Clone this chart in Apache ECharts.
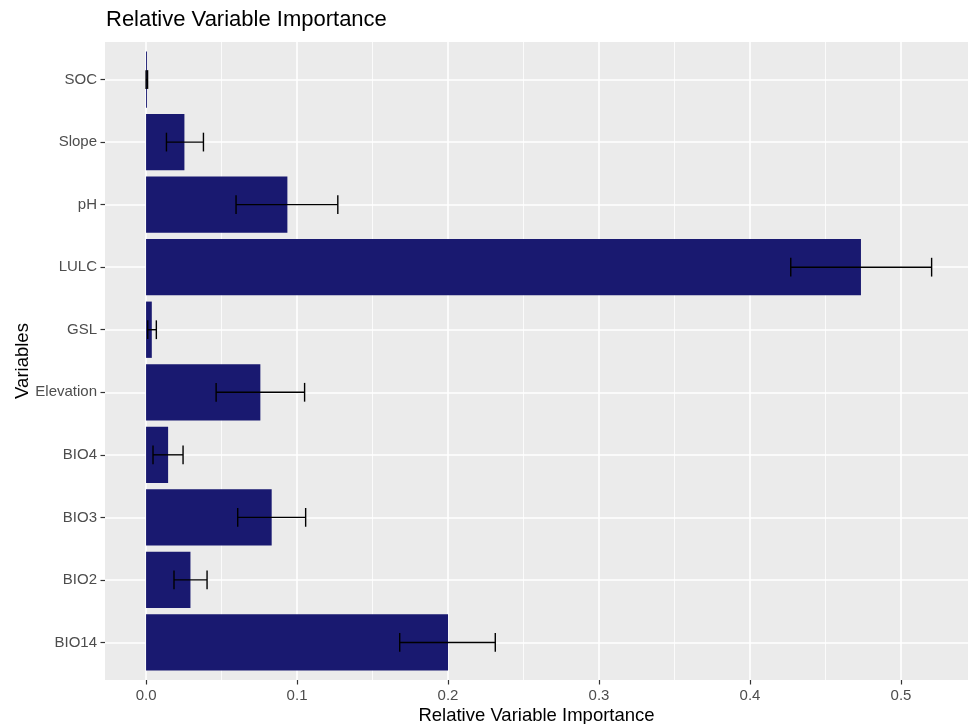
<!DOCTYPE html>
<html>
<head>
<meta charset="utf-8">
<script src="https://cdn.jsdelivr.net/npm/echarts@6/dist/echarts.min.js"></script>
<style>
  html, body { margin: 0; padding: 0; background: #ffffff; }
  #chart { width: 971px; height: 724px; }
</style>
</head>
<body>
<div id="chart"></div>
<script>
// Variables, listed bottom to top
const categories = ['BIO14', 'BIO2', 'BIO3', 'BIO4', 'Elevation', 'GSL', 'LULC', 'pH', 'Slope', 'SOC'];
// Mean relative importance per variable
const importance = [0.200, 0.0294, 0.0832, 0.0146, 0.0757, 0.0038, 0.4735, 0.0936, 0.0254, 0.0006];
// Error bar limits
const lowerBound = [0.168, 0.0185, 0.0607, 0.0046, 0.0464, 0.0011, 0.427, 0.0596, 0.0135, 0.0000];
const upperBound = [0.2313, 0.0404, 0.1057, 0.0245, 0.1050, 0.0068, 0.5203, 0.127, 0.0380, 0.0010];
// Axis breaks
const xMajorTicks = [0, 0.1, 0.2, 0.3, 0.4, 0.5];
const xMinorTicks = [0.05, 0.15, 0.25, 0.35, 0.45];
const xTickLabels = ['0.0', '0.1', '0.2', '0.3', '0.4', '0.5'];

const FONT = 'Liberation Sans, Arial, sans-serif';
const BAR_COLOR = '#191970';
const X_MIN = -0.0272;
const X_MAX = 0.5444;

const yPositions = categories.map((_, i) => i + 1);
const barData = importance.map((v, i) => [v, yPositions[i]]);
const errData = lowerBound.map((lo, i) => [lo, upperBound[i], yPositions[i]]);

const chart = echarts.init(document.getElementById('chart'), null, { renderer: 'canvas' });

chart.setOption({
  backgroundColor: '#ffffff',
  animation: false,
  title: {
    text: 'Relative Variable Importance',
    left: 106,
    top: 9,
    padding: 0,
    textStyle: { fontFamily: FONT, fontSize: 22, fontWeight: 'normal', color: '#000000' }
  },
  // y-axis title, rotated and centred on the panel height
  graphic: [
    {
      type: 'text',
      x: 23,
      y: 361,
      rotation: Math.PI / 2,
      style: {
        text: 'Variables',
        fontFamily: FONT,
        fontSize: 18.5,
        fill: '#000000',
        align: 'center',
        verticalAlign: 'middle'
      }
    }
  ],
  grid: {
    left: 105, right: 3, top: 42, bottom: 44,
    outerBoundsMode: 'none',
    containLabel: false,
    show: true, backgroundColor: '#EBEBEB', borderWidth: 0
  },
  xAxis: [
    {
      type: 'value',
      min: X_MIN,
      max: X_MAX,
      name: 'Relative Variable Importance',
      nameLocation: 'middle',
      nameGap: 26,
      nameMoveOverlap: false,
      nameTextStyle: { fontFamily: FONT, fontSize: 18.5, color: '#000000', verticalAlign: 'top' },
      axisLine: { show: false, onZero: false },
      axisTick: { show: true, length: 4.5, customValues: xMajorTicks, lineStyle: { color: '#333333', width: 1.2 } },
      axisLabel: {
        customValues: xMajorTicks,
        formatter: (v) => xTickLabels[xMajorTicks.findIndex(t => Math.abs(t - v) < 1e-9)],
        fontFamily: FONT, fontSize: 15, color: '#4D4D4D', margin: 8
      },
      splitLine: { show: true, lineStyle: { color: '#ffffff', width: 1.6 } }
    },
    {
      type: 'value',
      position: 'top',
      min: X_MIN,
      max: X_MAX,
      axisLine: { show: false, onZero: false },
      axisTick: { show: false, customValues: xMinorTicks },
      axisLabel: { show: false, customValues: xMinorTicks },
      splitLine: { show: true, lineStyle: { color: '#ffffff', width: 0.8 } }
    }
  ],
  yAxis: {
    type: 'value',
    min: 0.4,
    max: 10.6,
    axisLine: { show: false, onZero: false },
    axisTick: { show: true, length: 4.5, customValues: yPositions, lineStyle: { color: '#333333', width: 1.2 } },
    axisLabel: {
      customValues: yPositions,
      formatter: (v) => categories[Math.round(v) - 1],
      fontFamily: FONT, fontSize: 15, color: '#4D4D4D', margin: 8
    },
    splitLine: { show: true, lineStyle: { color: '#ffffff', width: 1.6 } }
  },
  series: [
    {
      name: 'importance',
      type: 'custom',
      xAxisIndex: 0,
      data: barData,
      encode: { x: 0, y: 1 },
      renderItem: (params, api) => {
        const v = api.value(0);
        const y = api.value(1);
        const start = api.coord([0, y]);
        const end = api.coord([v, y]);
        const h = api.size([0, 0.9])[1];
        return {
          type: 'rect',
          shape: { x: start[0], y: start[1] - h / 2, width: end[0] - start[0], height: h },
          style: { fill: BAR_COLOR }
        };
      },
      z: 2
    },
    {
      name: 'error',
      type: 'custom',
      xAxisIndex: 0,
      data: errData,
      encode: { x: [0, 1], y: 2 },
      renderItem: (params, api) => {
        const lo = api.value(0);
        const hi = api.value(1);
        const y = api.value(2);
        const p0 = api.coord([lo, y]);
        const p1 = api.coord([hi, y]);
        const cap = api.size([0, 0.3])[1] / 2;
        const style = { stroke: '#000000', lineWidth: 1.4, fill: null };
        return {
          type: 'group',
          children: [
            { type: 'line', shape: { x1: p0[0], y1: p0[1], x2: p1[0], y2: p1[1] }, style },
            { type: 'line', shape: { x1: p0[0], y1: p0[1] - cap, x2: p0[0], y2: p0[1] + cap }, style },
            { type: 'line', shape: { x1: p1[0], y1: p1[1] - cap, x2: p1[0], y2: p1[1] + cap }, style }
          ]
        };
      },
      z: 3
    }
  ]
});
</script>
</body>
</html>
